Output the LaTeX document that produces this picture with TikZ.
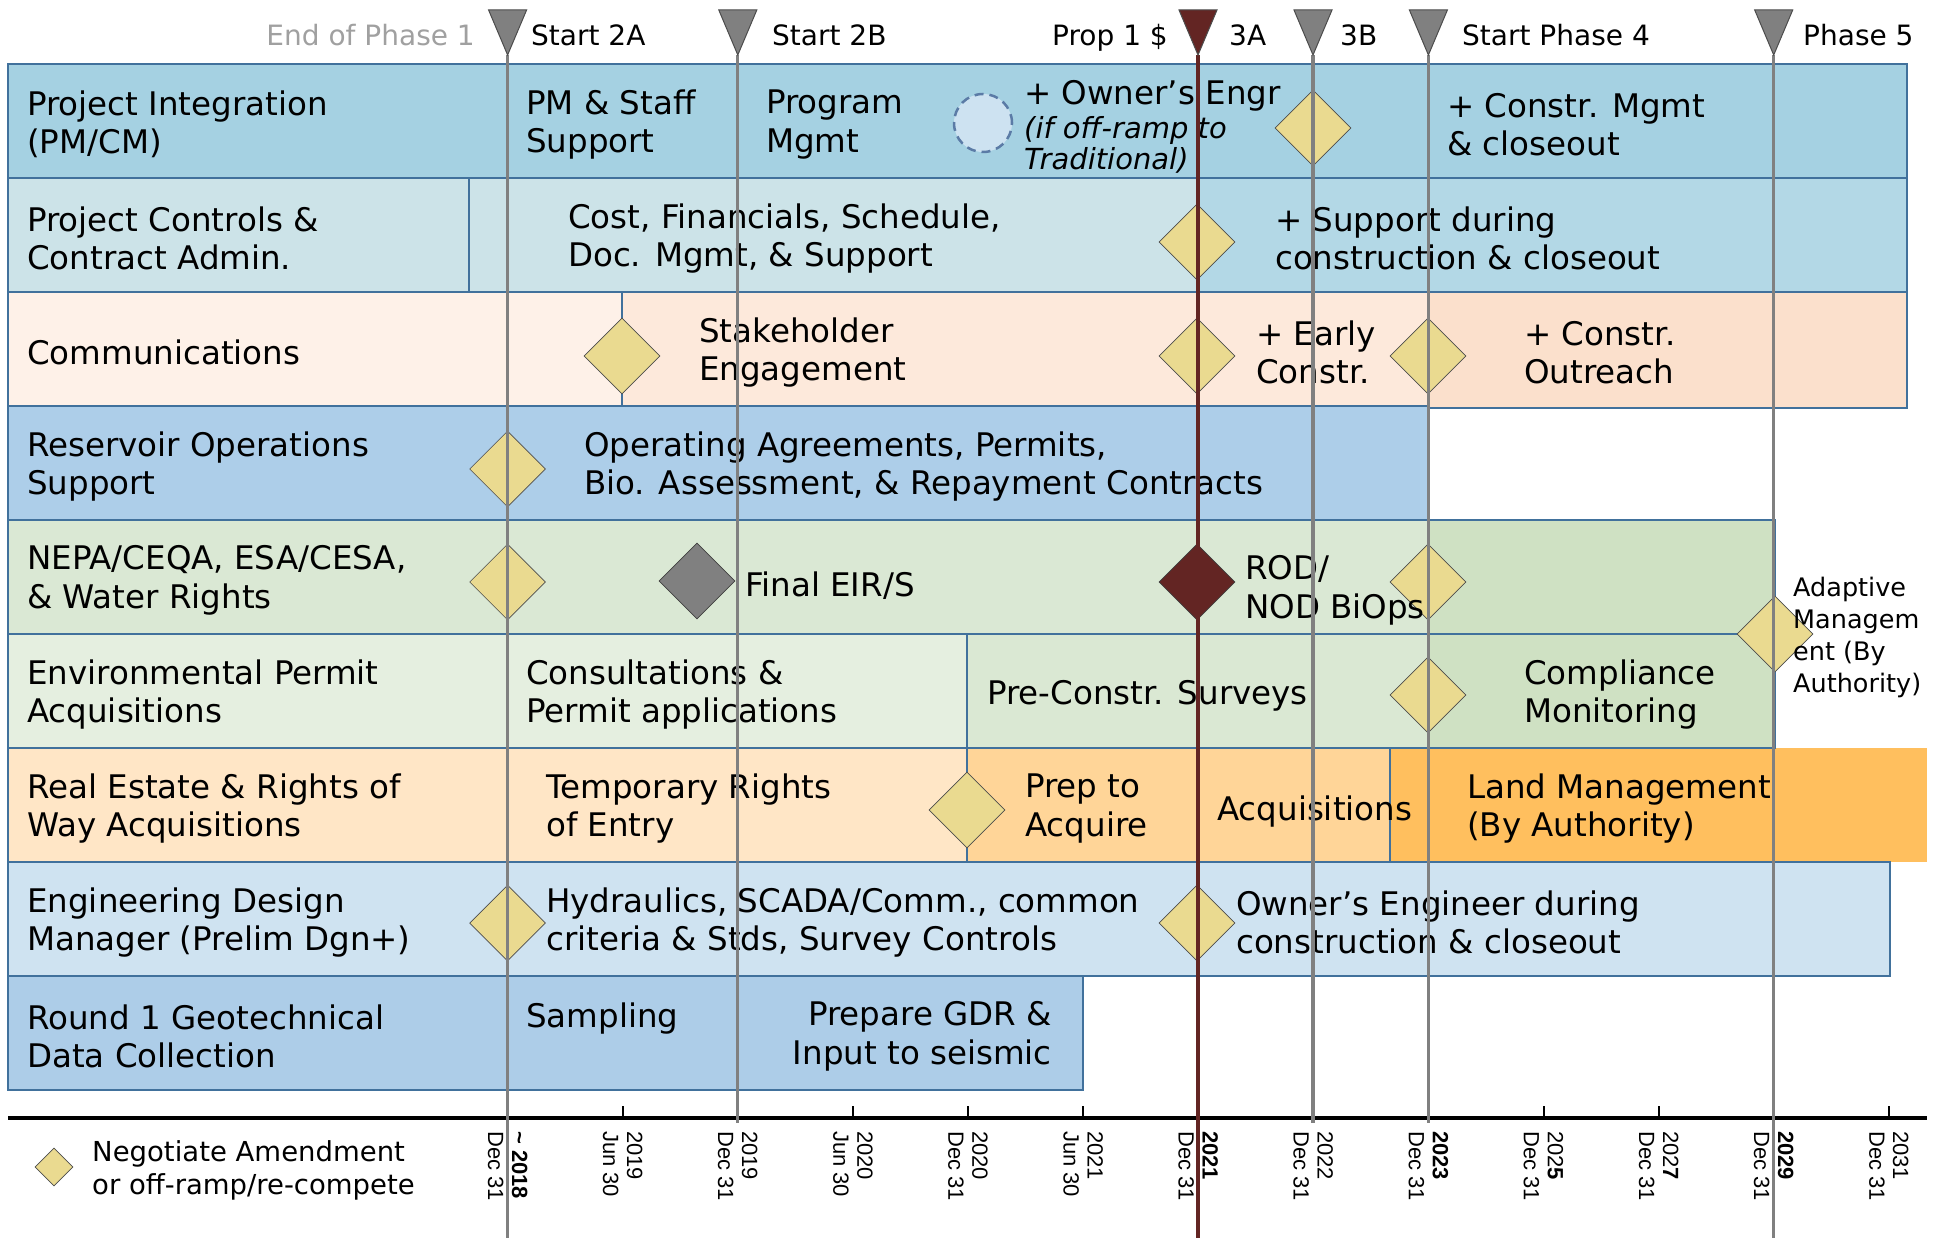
\documentclass[tikz,border=0pt]{standalone}
\usepackage{fontspec}
\setmainfont{DejaVu Sans}
\newfontfamily\axisfont{Liberation Sans}
\usetikzlibrary{shapes.geometric}

\definecolor{pmcm}{HTML}{A5D1E2}
\definecolor{ctrlA}{HTML}{CCE3E8}
\definecolor{ctrlB}{HTML}{B3D8E6}
\definecolor{commA}{HTML}{FEF1E8}
\definecolor{commB}{HTML}{FDE9DB}
\definecolor{commC}{HTML}{FBE0CC}
\definecolor{resop}{HTML}{ADCEE9}
\definecolor{nepaA}{HTML}{DAE8D4}
\definecolor{nepaB}{HTML}{CFE1C3}
\definecolor{envA}{HTML}{E5EFE0}
\definecolor{envB}{HTML}{DAE8D3}
\definecolor{landA}{HTML}{FFE6C6}
\definecolor{landB}{HTML}{FFD598}
\definecolor{landC}{HTML}{FFBF5E}
\definecolor{engr}{HTML}{CFE3F1}
\definecolor{geo}{HTML}{ADCDE8}
\definecolor{edgeblue}{HTML}{41719C}
\definecolor{gatey}{HTML}{EADA90}
\definecolor{milegray}{HTML}{808080}
\definecolor{rodred}{HTML}{632523}
\definecolor{circfill}{HTML}{CDE2F1}
\definecolor{dashblue}{HTML}{5B7BA6}
\definecolor{endgray}{HTML}{A0A0A0}

\tikzset{every node/.style={inner sep=0pt}}
\tikzset{bar/.style={draw=edgeblue,line width=1.5pt}}
\tikzstyle{lbl}=[anchor=west,align=left,yshift=-3.5pt,font=\fontsize{32.5}{38.5}\selectfont]
\tikzstyle{toplbl}=[anchor=base west,font=\fontsize{28}{32}\selectfont]
\tikzstyle{note}=[anchor=west,align=left,yshift=-2.5pt,font=\fontsize{29}{31}\selectfont\itshape]
\tikzstyle{smalltxt}=[anchor=west,align=left,yshift=-3pt,font=\fontsize{25.5}{32}\selectfont]
\tikzstyle{keytxt}=[anchor=west,align=left,yshift=-2pt,font=\fontsize{27.5}{33}\selectfont]
\tikzstyle{datelbl}=[anchor=west,align=left,rotate=-90,font=\axisfont\fontsize{22}{24}\selectfont]
\tikzstyle{gate}=[diamond,draw=black!70,fill=gatey,line width=0.7pt,minimum width=76pt,minimum height=76pt]
\tikzstyle{phase}=[draw=milegray,line width=3.2pt]
\tikzstyle{flag}=[fill=milegray,draw=black!70,line width=1pt]

\begin{document}
\begin{tikzpicture}[x=1pt,y=-1pt]
\useasboundingbox (0,0) rectangle (1946,1238);

\fill[landC] (1390,748) rectangle (1927,862);
\filldraw[bar,fill=pmcm] (8,64) rectangle (1907,178);
\filldraw[bar,fill=ctrlA] (8,178) rectangle (469,292);
\filldraw[bar,fill=ctrlA] (469,178) rectangle (1197,292);
\filldraw[bar,fill=ctrlB] (1197,178) rectangle (1907,292);
\filldraw[bar,fill=commA] (8,292) rectangle (622,406);
\filldraw[bar,fill=commB] (622,292) rectangle (1428,406);
\filldraw[bar,fill=commC] (1428,292) rectangle (1907,408);
\filldraw[bar,fill=resop] (8,406) rectangle (1428,520);
\filldraw[bar,fill=nepaA] (8,520) rectangle (1428,634);
\filldraw[bar,fill=nepaB] (1428,520) rectangle (1775,634);
\filldraw[bar,fill=envA] (8,634) rectangle (507,748);
\filldraw[bar,fill=envA] (507,634) rectangle (967,748);
\filldraw[bar,fill=envB] (967,634) rectangle (1428,748);
\filldraw[bar,fill=nepaB] (1428,634) rectangle (1775,748);
\filldraw[bar,fill=landA] (8,748) rectangle (507,862);
\filldraw[bar,fill=landA] (507,748) rectangle (967,862);
\filldraw[bar,fill=landB] (967,748) rectangle (1390,862);
\filldraw[bar,fill=engr] (8,862) rectangle (1890,976);
\filldraw[bar,fill=geo] (8,976) rectangle (1083,1090);

\node[circle,minimum size=58pt,draw=dashblue,fill=circfill,line width=2.5pt,dash pattern=on 9pt off 6pt] (offramp) at (983,123) {};

\node[gate] (g1) at (1313,128) {};
\node[gate] (g2) at (1197,242) {};
\node[gate] (g3a) at (622,356) {};
\node[gate] (g3b) at (1197,356) {};
\node[gate] (g3c) at (1428,356) {};
\node[gate] (g4) at (507.6,469) {};
\node[gate] (g5a) at (507.6,582) {};
\node[gate,fill=milegray,draw=black!75] (eirs) at (697,581) {};
\node[gate,fill=rodred,draw=black!75] (rod) at (1197,582) {};
\node[gate] (g5b) at (1428,582) {};
\node[gate] (g5c) at (1775,634) {};
\node[gate] (g6) at (1428,695) {};
\node[gate] (g7) at (967,810) {};
\node[gate] (g8a) at (507.6,923) {};
\node[gate] (g8b) at (1197,923) {};

\node[lbl] (pmcm) at (27,121) {Project Integration\\(PM/CM)};
\node[lbl] (ctrl) at (27,235) {Project Controls \&\\Contract Admin.};
\node[lbl] (comm) at (27,349) {Communications};
\node[lbl] (resop) at (27,463) {Reservoir Operations\\Support};
\node[lbl] (nepa) at (27,577) {NEPA/CEQA, ESA/CESA,\\\& Water Rights};
\node[lbl] (envp) at (27,691) {Environmental Permit\\Acquisitions};
\node[lbl] (land) at (27,805) {Real Estate \& Rights of\\Way Acquisitions};
\node[lbl] (engr) at (27,919) {Engineering Design\\Manager (Prelim Dgn+)};
\node[lbl] (geo) at (27,1033) {Round 1 Geotechnical\\Data Collection};

\node[lbl] (staff) at (526,121) {PM \& Staff\\Support};
\node[lbl] (prog) at (766,121) {Program\\Mgmt};
\node[lbl] (owner) at (1024,92) {+ Owner’s Engr};
\node[note] (offnote) at (1024,142) {(if off-ramp to\\Traditional)};
\node[lbl] (cm) at (1447,121) {+ Constr. Mgmt\\\& closeout};
\node[lbl] (cost) at (568,235) {Cost, Financials, Schedule,\\Doc. Mgmt, \& Support};
\node[lbl] (supp) at (1275,235) {+ Support during\\construction \& closeout};
\node[lbl] (stake) at (699,349) {Stakeholder\\Engagement};
\node[lbl] (early) at (1256,349) {+ Early\\Constr.};
\node[lbl] (outr) at (1524,349) {+ Constr.\\Outreach};
\node[lbl] (oper) at (584,463) {Operating Agreements, Permits,\\Bio. Assessment, \& Repayment Contracts};
\node[lbl] (final) at (745,582) {Final EIR/S};
\node[lbl] (rodtxt) at (1245,587) {ROD/\\NOD BiOps};
\node[smalltxt] (adapt) at (1793,634) {Adaptive\\Managem\\ent (By\\Authority)};
\node[lbl] (consult) at (526,691) {Consultations \&\\Permit applications};
\node[lbl] (survey) at (987,692) {Pre-Constr. Surveys};
\node[lbl] (monit) at (1524,691) {Compliance\\Monitoring};
\node[lbl] (entry) at (546,805) {Temporary Rights\\of Entry};
\node[lbl] (prep) at (1025,805) {Prep to\\Acquire};
\node[lbl] (acq) at (1217,808) {Acquisitions};
\node[lbl] (landmg) at (1467,805) {Land Management\\(By Authority)};
\node[lbl] (hydr) at (546,919) {Hydraulics, SCADA/Comm., common\\criteria \& Stds, Survey Controls};
\node[lbl] (oe) at (1236,919) {Owner’s Engineer during\\construction \& closeout};
\node[lbl] (samp) at (526,1015) {Sampling};
\node[lbl,anchor=east,align=right] (gdr) at (1052,1033) {Prepare GDR \&\\Input to seismic};

\node[toplbl,anchor=base east,text=endgray] (endp1) at (475,46) {End of Phase 1};
\node[toplbl] (st2a) at (531,46) {Start 2A};
\node[toplbl] (st2b) at (772,46) {Start 2B};
\node[toplbl,anchor=base east] (prop1) at (1168,46) {Prop 1 \$};
\node[toplbl] (st3a) at (1229,46) {3A};
\node[toplbl] (st3b) at (1340,46) {3B};
\node[toplbl] (st4) at (1462,46) {Start Phase 4};
\node[toplbl] (st5) at (1803,46) {Phase 5};

\coordinate (ph2a) at (507.6,55);
\coordinate (ph2b) at (737.8,55);
\coordinate (ph3a) at (1198,55);
\coordinate (ph3b) at (1313,55);
\coordinate (ph4) at (1428.4,55);
\coordinate (ph5) at (1773.7,55);
\coordinate (bot) at (0,1238);
\coordinate (axbot) at (0,1123);

\draw[line width=4pt] (8,1118) -- (1927,1118);
\foreach \i in {0,...,12}
    \draw[line width=2pt] (507.6+115.1*\i,1106) -- (507.6+115.1*\i,1118);
\foreach \i/\txt in {0/{\bfseries\textasciitilde{} 2018\\Dec 31},1/{2019\\Jun 30},2/{2019\\Dec 31},3/{2020\\Jun 30},4/{2020\\Dec 31},5/{2021\\Jun 30},6/{\bfseries 2021\\Dec 31},7/{2022\\Dec 31},8/{\bfseries 2023\\Dec 31},9/{202\textbf{5}\\Dec 31},10/{202\textbf{7}\\Dec 31},11/{\bfseries 2029\\Dec 31},12/{2031\\Dec 31}}
    \node[datelbl] (d\i) at (507.6+115.1*\i,1131) {\txt};

\node[gate,minimum width=38pt,minimum height=38pt] (keygate) at (54,1167) {};
\node[keytxt] (keylbl) at (92,1168) {Negotiate Amendment\\or off-ramp/re-compete};

\draw[phase] (ph2a) -- (ph2a |- bot);
\draw[phase] (ph2b) -- (ph2b |- axbot);
\draw[phase,draw=rodred] (ph3a) -- (ph3a |- bot);
\draw[phase] (ph3b) -- (ph3b |- axbot);
\draw[phase] (ph4) -- (ph4 |- axbot);
\draw[phase] (ph5) -- (ph5 |- bot);

\foreach \c in {ph2a,ph2b,ph3b,ph4,ph5}
    \filldraw[flag] (\c) -- ++(-19,-45) -- ++(38,0) -- cycle;
\filldraw[flag,fill=rodred] (ph3a) -- ++(-19,-45) -- ++(38,0) -- cycle;
\end{tikzpicture}
\end{document}
